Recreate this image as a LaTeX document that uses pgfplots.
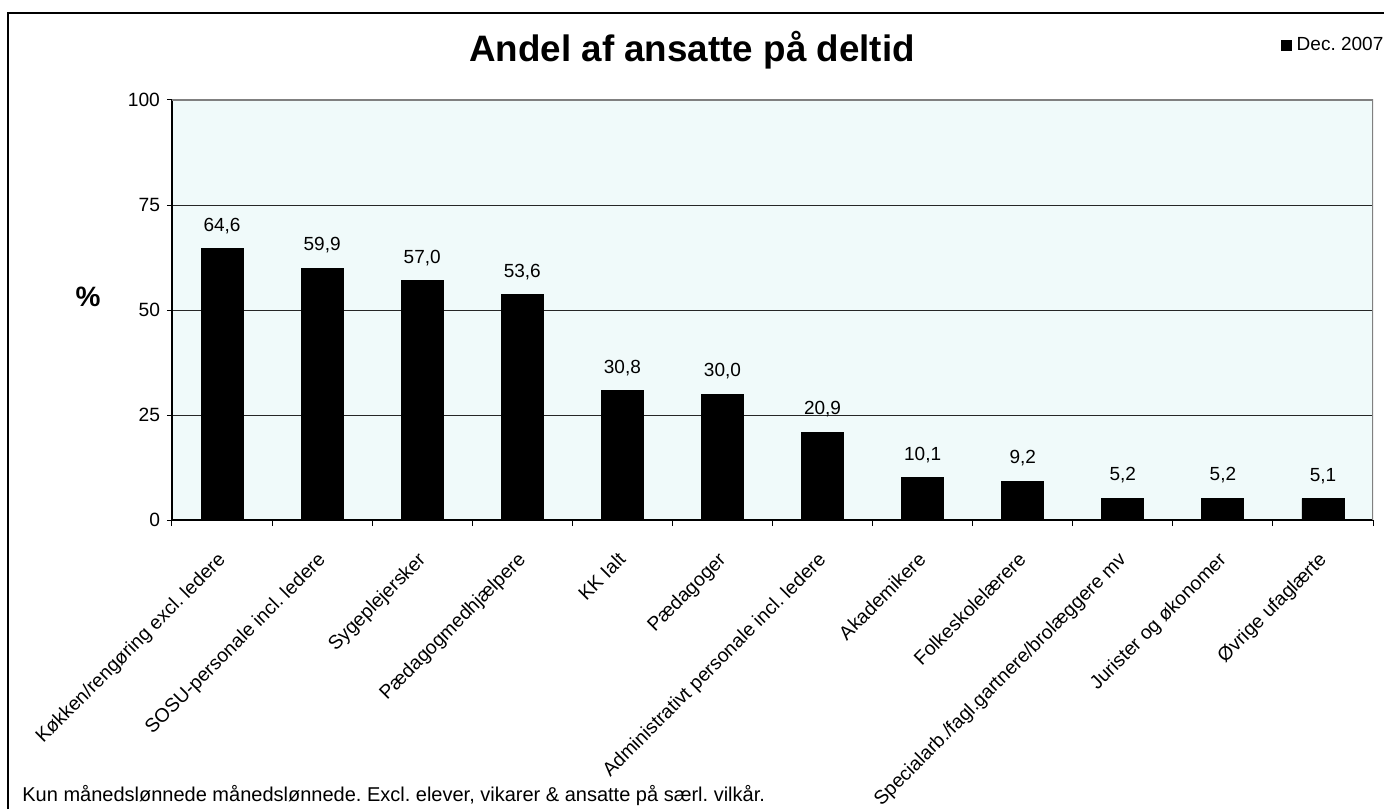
\documentclass[border=0pt]{standalone}
\usepackage{fontspec}
\setmainfont{Liberation Sans}
\usepackage{pgfplots}
\pgfplotsset{compat=1.18}
\definecolor{plotbg}{HTML}{F0FAFA}
\frenchspacing

\begin{document}
\begin{tikzpicture}
\useasboundingbox (0,0) rectangle (692pt,404.5pt);
\draw[line width=0.7pt] (4pt,0) |- (692pt,398pt);
\begin{axis}[
  at={(86pt,144.5pt)}, anchor=south west,
  scale only axis, width=600.5pt, height=210pt,
  ymin=0, ymax=100, ytick={0,25,50,75,100},
  xmin=-0.5, xmax=11.5,
  xtick={0,...,11},
  xticklabels={Køkken/rengøring excl. ledere, SOSU-personale incl. ledere, Sygeplejersker, Pædagogmedhjælpere, KK Ialt, Pædagoger, Administrativt personale incl. ledere, Akademikere, Folkeskolelærere, Specialarb./fagl.gartnere/brolæggere mv, Jurister og økonomer, Øvrige ufaglærte},
  minor xtick={-0.5,0.5,...,11.5},
  major x tick style={draw=none},
  tick align=outside, tick pos=left,
  major tick length=2.5pt, minor tick length=3pt,
  tick style={black, line width=0.5pt},
  axis x line*=bottom, axis y line*=left,
  axis line style={-, black, line width=0.6pt},
  axis background/.style={fill=plotbg},
  ymajorgrids, grid style={black!85, line width=0.4pt},
  /pgf/number format/assume math mode=true,
  yticklabel style={font=\fontsize{9.6}{11}\selectfont},
  xticklabel style={font=\fontsize{9.7}{11}\selectfont, rotate=45, anchor=north east, inner sep=1pt, xshift=-10pt, yshift=-6pt},
  ybar, bar width=21pt,
  nodes near coords={\pgfmathprintnumber[fixed,fixed zerofill,precision=1,use comma]{\pgfplotspointmeta}},
  every node near coord/.append style={font=\fontsize{9.5}{11}\selectfont, yshift=4pt},
  legend style={at={(axis description cs:0.923,1.131)}, anchor=west, draw=none, fill=none,
    inner sep=0pt, nodes={font=\fontsize{9.5}{11}\selectfont, inner sep=1.5pt}},
  legend image code/.code={\fill[black] (0pt,-2.5pt) rectangle (5pt,2.5pt);},
]
\addplot[fill=black, draw=black] coordinates {
  (0,64.6) (1,59.9) (2,57.0) (3,53.6) (4,30.8) (5,30.0)
  (6,20.9) (7,10.1) (8,9.2) (9,5.2) (10,5.2) (11,5.1)};
\legend{\hspace{1pt}Dec. 2007}
\draw[gray, line width=0.6pt] (rel axis cs:0,1) -| (rel axis cs:1,0);
\end{axis}
\node[font=\bfseries\fontsize{18.4}{22}\selectfont] at (346pt,379.5pt) {Andel af ansatte på deltid};
\node[font=\bfseries\fontsize{14}{16}\selectfont] at (44pt,256pt) {\%};
\node[anchor=base west, font=\fontsize{10}{12}\selectfont, inner sep=0pt] at (11pt,4pt) {Kun månedslønnede månedslønnede. Excl. elever, vikarer \& ansatte på særl. vilkår.};
\end{tikzpicture}
\end{document}
